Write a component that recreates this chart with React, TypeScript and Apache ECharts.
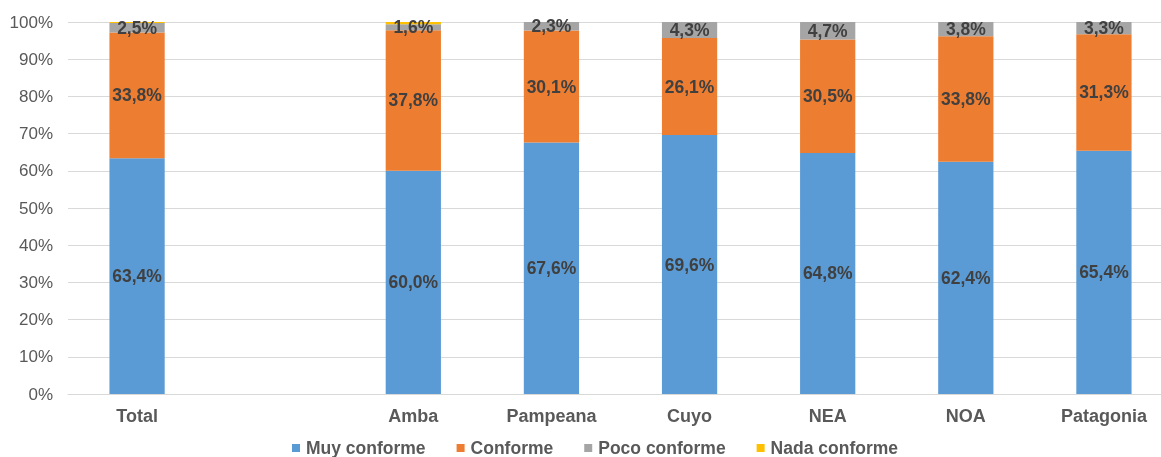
import React, { useEffect, useRef } from "react";
import * as echarts from "echarts";

const categories = ["Total", "", "Amba", "Pampeana", "Cuyo", "NEA", "NOA", "Patagonia"];
const muyConforme = [63.4, null, 60.0, 67.6, 69.6, 64.8, 62.4, 65.4];
const conforme = [33.8, null, 37.8, 30.1, 26.1, 30.5, 33.8, 31.3];
const pocoConforme = [2.5, null, 1.6, 2.3, 4.3, 4.7, 3.8, 3.3];
const nadaConforme = [0.3, null, 0.6, 0, 0, 0, 0, 0];
const yTicks = [0, 10, 20, 30, 40, 50, 60, 70, 80, 90, 100];

const FONT = "'Liberation Sans', Arial, sans-serif";

export default function App() {
  const ref = useRef<HTMLDivElement>(null);
  useEffect(() => {
    if (!ref.current) return;
    const chart = echarts.init(ref.current, null, { renderer: "svg" });
    const label = (show: boolean) => ({
      show,
      position: "inside",
      color: "#404040",
      fontFamily: FONT,
      fontWeight: "bold",
      fontSize: 17.5,
      formatter: (p: any) => (p.value == null ? "" : p.value.toFixed(1).replace(".", ",") + "%"),
    });
    const mk = (name: string, data: any[], color: string, showLabel: boolean) => ({
      name,
      type: "bar",
      stack: "s",
      data,
      barWidth: "40%",
      itemStyle: { color },
      label: label(showLabel),
    });
    chart.setOption({
      animation: false,
      textStyle: { fontFamily: FONT },
      grid: { left: 68, width: 1105, top: 22, bottom: 63, containLabel: false, outerBoundsMode: "none" },
      legend: {
        top: 439,
        left: 292,
        padding: 0,
        itemWidth: 8,
        itemHeight: 8,
        itemGap: 31,
        icon: "rect",
        textStyle: { color: "#595959", fontFamily: FONT, fontWeight: "bold", fontSize: 17.5, padding: [0, 0, 0, 1] },
        data: ["Muy conforme", "Conforme", "Poco conforme", "Nada conforme"],
      },
      xAxis: {
        type: "category",
        data: categories,
        axisLine: { lineStyle: { color: "#D9D9D9" } },
        axisTick: { show: false },
        axisLabel: { interval: 0, color: "#595959", fontFamily: FONT, fontWeight: "bold", fontSize: 18, margin: 13 },
      },
      yAxis: {
        type: "value",
        min: 0,
        max: 100,
        interval: 10,
        axisLine: { show: false },
        axisTick: { show: false },
        splitLine: { lineStyle: { color: "#D9D9D9" } },
        axisLabel: {
          color: "#595959",
          fontFamily: FONT,
          fontSize: 17,
          margin: 15,
          formatter: (v: number) => (yTicks.includes(v) ? v + "%" : ""),
        },
      },
      series: [
        mk("Muy conforme", muyConforme, "#5B9BD5", true),
        mk("Conforme", conforme, "#ED7D31", true),
        mk("Poco conforme", pocoConforme, "#A5A5A5", true),
        mk("Nada conforme", nadaConforme, "#FFC000", false),
      ],
    });
    return () => chart.dispose();
  }, []);
  return <div ref={ref} style={{ position: "fixed", left: 0, top: 0, width: 1161, height: 457 }} />;
}
